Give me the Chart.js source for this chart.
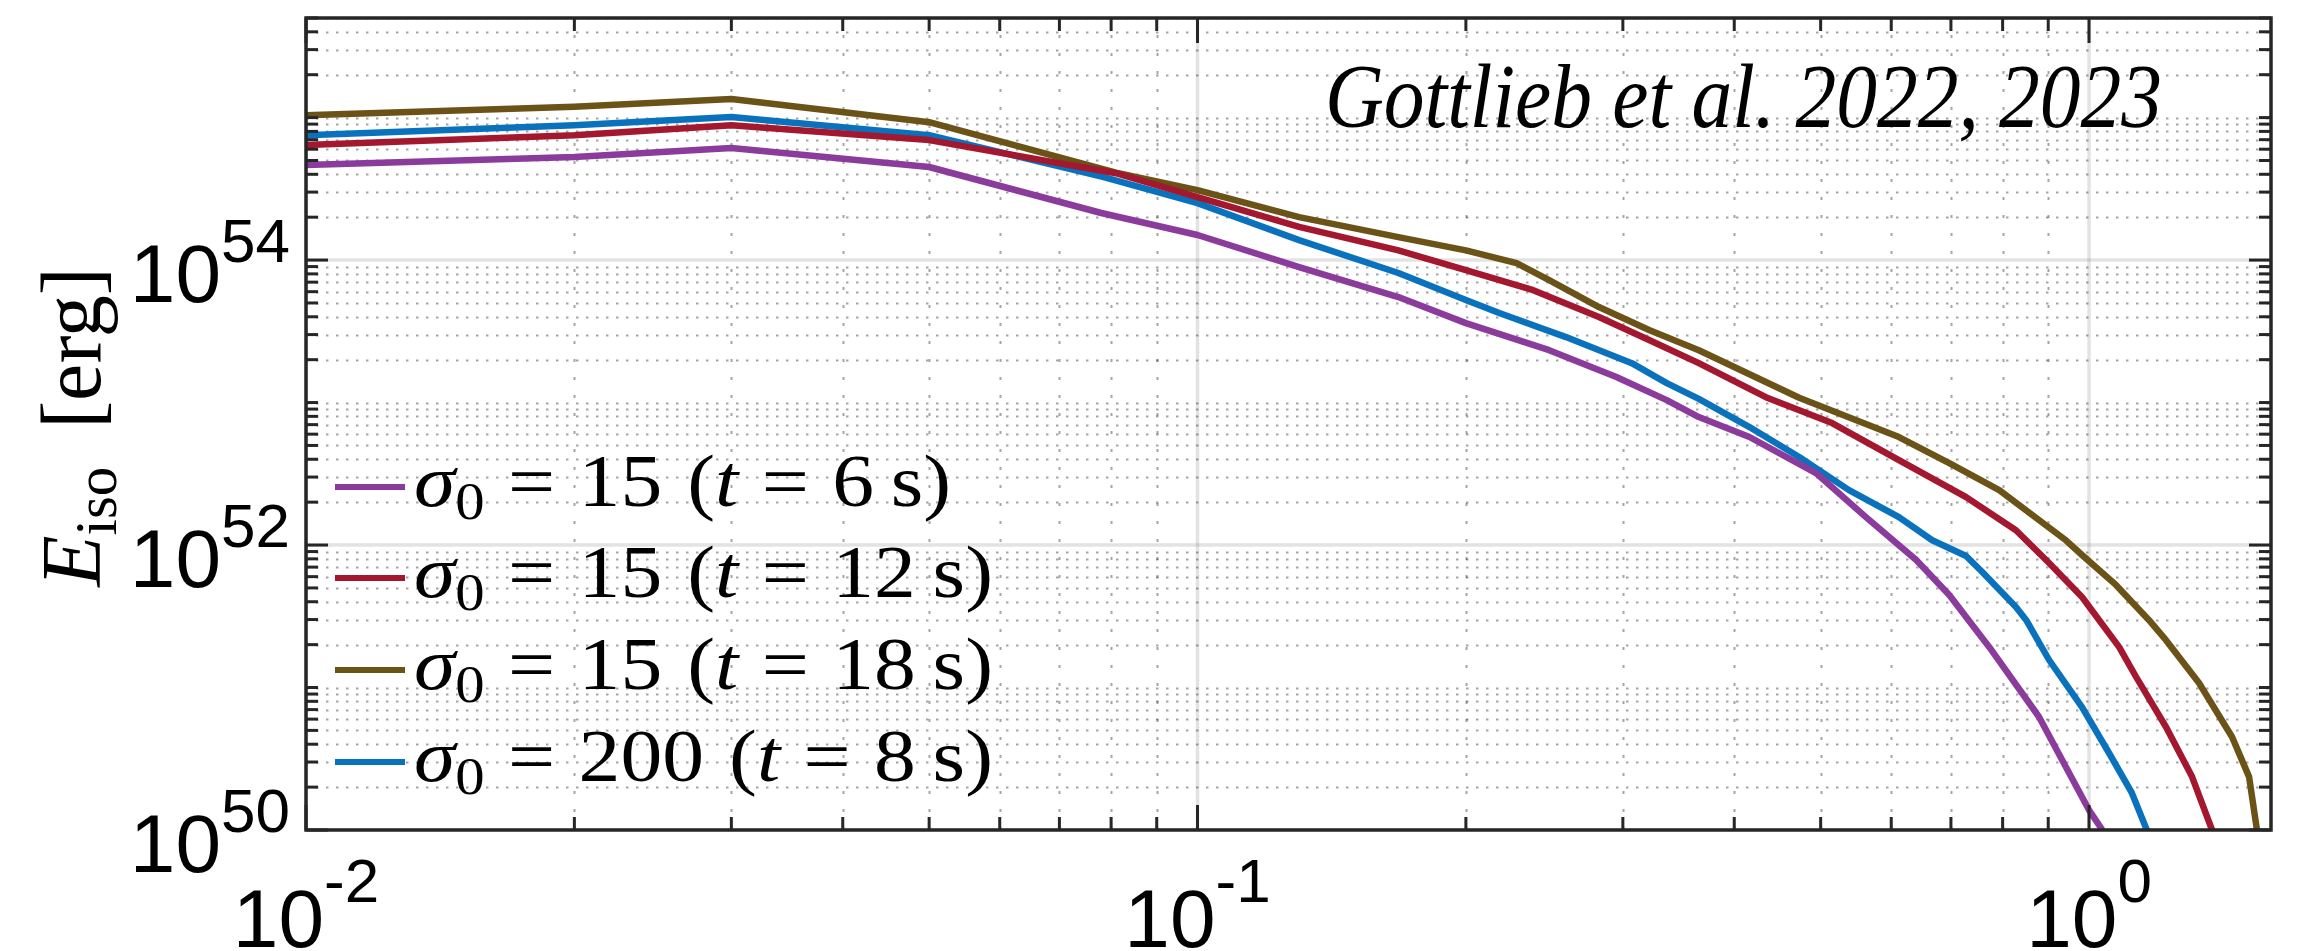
<!DOCTYPE html>
<html>
<head>
<meta charset="utf-8">
<script src="https://cdn.jsdelivr.net/npm/chart.js@4.4.1/dist/chart.umd.min.js"></script>
<style>
  html, body { margin: 0; padding: 0; background: #ffffff; overflow: hidden; }
  #wrap { width: 2309px; height: 951px; position: relative; }
</style>
</head>
<body>
<div id="wrap"><canvas id="c" width="2309" height="951"></canvas></div>
<script>
// Isotropic-equivalent energy profiles, E_iso, for four jet simulations.

// Decade tick labels (powers of ten)
const xTickExponents = [-2, -1, 0];
const yTickExponents = [50, 52, 54];

// Legend text pieces
const sigmaLabels = ['15', '15', '15', '200'];
const timeLabels  = ['6', '12', '18', '8'];

// sigma0 = 15, t = 6 s
const xS15t6 = [0.01, 0.02, 0.03, 0.05, 0.078, 0.10, 0.13, 0.168, 0.20, 0.248, 0.295, 0.336, 0.365,
                0.416, 0.494, 0.562, 0.640, 0.697, 0.773, 0.879, 0.942, 1.0, 1.035];
const eS15t6 = [4.65e54, 5.28e54, 6.11e54, 4.50e54, 2.14e54, 1.50e54, 8.93e53, 5.50e53, 3.61e53, 2.33e53,
                1.51e53, 1.04e53, 7.91e52, 5.73e52, 3.20e52, 1.57e52, 7.85e51, 4.46e51, 1.92e51, 6.21e50,
                2.77e50, 1.38e50, 1.0e50];

// sigma0 = 15, t = 12 s
const xS15t12 = [0.01, 0.02, 0.03, 0.05, 0.081, 0.10, 0.13, 0.168, 0.20, 0.238, 0.282, 0.321, 0.365,
                 0.434, 0.515, 0.612, 0.728, 0.828, 0.902, 0.982, 1.081, 1.129, 1.22, 1.305, 1.374];
const eS15t12 = [6.41e54, 7.53e54, 8.85e54, 6.95e54, 4.07e54, 2.77e54, 1.71e54, 1.17e54, 8.51e53, 6.15e53,
                 3.98e53, 2.75e53, 1.89e53, 1.09e53, 7.18e52, 3.94e52, 2.17e52, 1.27e52, 7.48e51, 4.32e51,
                 1.92e51, 1.19e51, 5.28e50, 2.36e50, 1.0e50];

// sigma0 = 15, t = 18 s
const xS15t18 = [0.01, 0.02, 0.03, 0.05, 0.081, 0.10, 0.13, 0.168, 0.20, 0.228, 0.248, 0.282, 0.321,
                 0.365, 0.473, 0.612, 0.697, 0.793, 0.942, 0.982, 1.072, 1.167, 1.22, 1.328, 1.447, 1.512, 1.543];
const eS15t18 = [1.04e55, 1.19e55, 1.35e55, 9.29e54, 4.11e54, 3.10e54, 2.00e54, 1.45e54, 1.17e54, 9.53e53,
                 7.24e53, 4.68e53, 3.23e53, 2.33e53, 1.08e53, 5.73e52, 3.76e52, 2.43e52, 1.08e52, 8.51e51,
                 5.25e51, 2.98e51, 2.15e51, 1.08e51, 4.50e50, 2.36e50, 1.0e50];

// sigma0 = 200, t = 8 s
const xS200t8 = [0.01, 0.02, 0.03, 0.05, 0.0785, 0.10, 0.13, 0.168, 0.20, 0.218, 0.259, 0.307, 0.336,
                 0.365, 0.416, 0.473, 0.538, 0.612, 0.667, 0.728, 0.759, 0.828, 0.850, 0.902, 0.982,
                 1.053, 1.117, 1.161];
const eS200t8 = [7.53e54, 8.85e54, 1.01e55, 7.53e54, 3.82e54, 2.51e54, 1.38e54, 8.11e53, 5.24e53, 4.25e53,
                 2.88e53, 1.89e53, 1.37e53, 1.06e53, 6.73e52, 4.15e52, 2.43e52, 1.57e52, 1.08e52, 8.38e51,
                 6.47e51, 3.67e51, 2.98e51, 1.56e51, 7.29e50, 3.47e50, 1.82e50, 1.0e50];

const seriesColors = ['#8a3b9c', '#a3172f', '#6b5318', '#0a72bd'];

function pts(xs, ys) { return xs.map((x, i) => ({ x: x, y: ys[i] })); }

const datasets = [
  { data: pts(xS15t6, eS15t6),   borderColor: seriesColors[0] },
  { data: pts(xS15t12, eS15t12), borderColor: seriesColors[1] },
  { data: pts(xS15t18, eS15t18), borderColor: seriesColors[2] },
  { data: pts(xS200t8, eS200t8), borderColor: seriesColors[3] }
];

const X_MIN = 0.01, X_MAX = 1.6, Y_MIN = 1e50, Y_MAX = 5e55;
const AXIS_COLOR = '#262626';

// Grid positions: full decades are major, 2..9 multiples (and odd decades on y) are minor
function decadeGrid(lo, hi, expLo, expHi, majorExps) {
  const major = [], minor = [];
  for (let e = expLo; e <= expHi; e++) {
    for (let m = 1; m <= 9; m++) {
      const v = m * Math.pow(10, e);
      if (v < lo * 0.9999 || v > hi * 1.0001) continue;
      if (m === 1 && majorExps.includes(e)) major.push(v); else minor.push(v);
    }
  }
  return { major, minor };
}
const xGrid = decadeGrid(X_MIN, X_MAX, -2, 0, xTickExponents);
const yGrid = decadeGrid(Y_MIN, Y_MAX, 50, 55, yTickExponents);

function richWidth(ctx, parts) {
  let w = 0;
  for (const p of parts) { ctx.font = p.font; w += (p.pre || 0) + ctx.measureText(p.t).width + (p.post || 0); }
  return w;
}
function drawRich(ctx, parts) {
  let cx = 0;
  for (const p of parts) {
    ctx.font = p.font;
    cx += p.pre || 0;
    ctx.fillText(p.t, cx, p.dy || 0);
    cx += ctx.measureText(p.t).width + (p.post || 0);
  }
}

const gridPlugin = {
  id: 'matlabGrid',
  beforeDatasetsDraw(chart) {
    const { ctx, chartArea: a, scales: { x, y } } = chart;
    ctx.save();
    ctx.beginPath(); ctx.rect(a.left, a.top, a.right - a.left, a.bottom - a.top); ctx.clip();
    // minor grid, dotted
    ctx.strokeStyle = 'rgba(38,38,38,0.42)';
    ctx.lineWidth = 2;
    ctx.setLineDash([2.5, 7.5]);
    for (const v of yGrid.minor) {
      const py = Math.round(y.getPixelForValue(v)) + 0.5;
      ctx.beginPath(); ctx.moveTo(a.left, py); ctx.lineTo(a.right, py); ctx.stroke();
    }
    ctx.setLineDash([3, 15]);
    for (const v of xGrid.minor) {
      const px = Math.round(x.getPixelForValue(v)) + 0.5;
      ctx.beginPath(); ctx.moveTo(px, a.bottom); ctx.lineTo(px, a.top); ctx.stroke();
    }
    // major grid, solid light
    ctx.setLineDash([]);
    ctx.strokeStyle = 'rgba(38,38,38,0.13)';
    ctx.lineWidth = 3.5;
    for (const v of yGrid.major) {
      const py = y.getPixelForValue(v);
      ctx.beginPath(); ctx.moveTo(a.left, py); ctx.lineTo(a.right, py); ctx.stroke();
    }
    for (const v of xGrid.major) {
      const px = x.getPixelForValue(v);
      ctx.beginPath(); ctx.moveTo(px, a.bottom); ctx.lineTo(px, a.top); ctx.stroke();
    }
    ctx.restore();
  },
  afterDatasetsDraw(chart) {
    const { ctx, chartArea: a, scales: { x, y } } = chart;
    ctx.save();
    ctx.strokeStyle = AXIS_COLOR;
    ctx.lineWidth = 3;
    const tick = (x0, y0, x1, y1) => { ctx.beginPath(); ctx.moveTo(x0, y0); ctx.lineTo(x1, y1); ctx.stroke(); };
    for (const v of xGrid.minor) { const px = x.getPixelForValue(v); tick(px, a.bottom, px, a.bottom - 13); tick(px, a.top, px, a.top + 13); }
    for (const v of xGrid.major) { const px = x.getPixelForValue(v); tick(px, a.bottom, px, a.bottom - 25); tick(px, a.top, px, a.top + 25); }
    for (const v of yGrid.minor) { const py = y.getPixelForValue(v); tick(a.left, py, a.left + 12, py); tick(a.right, py, a.right - 12, py); }
    for (const v of yGrid.major) { const py = y.getPixelForValue(v); tick(a.left, py, a.left + 22, py); tick(a.right, py, a.right - 22, py); }
    ctx.lineWidth = 3.5;
    ctx.strokeRect(a.left, a.top, a.right - a.left, a.bottom - a.top);
    ctx.restore();
  },
  afterDraw(chart) {
    const { ctx, chartArea: a, scales: { x, y } } = chart;
    ctx.save();
    ctx.fillStyle = '#000000';
    ctx.textBaseline = 'alphabetic';
    ctx.textAlign = 'left';

    // tick labels: 10 with superscript exponent
    const mainFont = '82px "Liberation Sans"', supFont = '62px "Liberation Sans"';
    for (const e of xTickExponents) {
      const px = x.getPixelForValue(Math.pow(10, e));
      const parts = [{ t: '10', font: mainFont }, { t: String(e), font: supFont, dy: -45 }];
      const w = richWidth(ctx, parts);
      ctx.save(); ctx.translate(px - w / 2, 947); drawRich(ctx, parts); ctx.restore();
    }
    for (const e of yTickExponents) {
      const py = y.getPixelForValue(Math.pow(10, e));
      const parts = [{ t: '10', font: mainFont }, { t: String(e), font: supFont, dy: -40 }];
      const w = richWidth(ctx, parts);
      ctx.save(); ctx.translate(290 - w, py + 42); drawRich(ctx, parts); ctx.restore();
    }

    // y axis title, rotated, centred on the axis
    const F = 84;
    const yTitle = [
      { t: 'E', font: `italic ${F}px "Liberation Serif"` },
      { t: 'iso', font: `${Math.round(F * 0.7)}px "Liberation Serif"`, dy: 16, post: F * 0.45 },
      { t: '[erg]', font: `${F}px "Liberation Serif"` }
    ];
    const tw = richWidth(ctx, yTitle);
    ctx.save();
    ctx.translate(100, 427);
    ctx.rotate(-Math.PI / 2);
    ctx.translate(-tw / 2, 0);
    drawRich(ctx, yTitle);
    ctx.restore();

    // legend (no box), lower left inside the axes
    const LF = 74, rm = `${LF}px "Liberation Serif"`, it = `italic ${LF}px "Liberation Serif"`;
    const sub = `${Math.round(LF * 0.7)}px "Liberation Serif"`;
    const rel = LF * 0.28;
    const rowY = [487, 578, 670, 762];
    const rows = sigmaLabels.map((s, i) => [
      { t: 'σ', font: it },
      { t: '0', font: sub, dy: 13 },
      { t: '=', font: rm, pre: rel, post: rel },
      { t: s, font: rm },
      { t: '(', font: rm, pre: LF * 0.3 },
      { t: 't', font: it },
      { t: '=', font: rm, pre: rel, post: rel },
      { t: timeLabels[i], font: rm },
      { t: 's', font: rm, pre: LF * 0.2 },
      { t: ')', font: rm }
    ]);
    const legScale = 579 / richWidth(ctx, rows[1]);
    rows.forEach((parts, i) => {
      ctx.strokeStyle = seriesColors[i];
      ctx.lineWidth = 6;
      ctx.beginPath(); ctx.moveTo(335, rowY[i]); ctx.lineTo(405, rowY[i]); ctx.stroke();
      ctx.save();
      ctx.translate(414, rowY[i] + 19);
      ctx.scale(legScale, 1);
      drawRich(ctx, parts);
      ctx.restore();
    });

    // citation note, top right
    const cite = 'Gottlieb et al. 2022, 2023';
    ctx.font = 'italic 92px "Liberation Serif"';
    const cw = ctx.measureText(cite).width;
    ctx.save();
    ctx.translate(1325, 127);
    ctx.scale(837 / cw, 1);
    ctx.fillText(cite, 0, 0);
    ctx.restore();

    ctx.restore();
  }
};

new Chart(document.getElementById('c'), {
  type: 'line',
  data: { datasets: datasets },
  options: {
    responsive: false,
    animation: false,
    devicePixelRatio: 1,
    layout: { padding: { left: 0, right: 38, top: 18, bottom: 0 } },
    elements: {
      point: { radius: 0, hoverRadius: 0 },
      line: { tension: 0, borderWidth: 6.5, borderJoinStyle: 'round', borderCapStyle: 'butt', fill: false }
    },
    plugins: { legend: { display: false }, tooltip: { enabled: false }, title: { display: false } },
    events: [],
    scales: {
      x: {
        type: 'logarithmic', min: X_MIN, max: X_MAX,
        grid: { display: false }, border: { display: false }, ticks: { display: false },
        afterFit(s) { s.height = 121; }
      },
      y: {
        type: 'logarithmic', min: Y_MIN, max: Y_MAX,
        grid: { display: false }, border: { display: false }, ticks: { display: false },
        afterFit(s) { s.width = 306; }
      }
    }
  },
  plugins: [gridPlugin]
});
</script>
</body>
</html>
